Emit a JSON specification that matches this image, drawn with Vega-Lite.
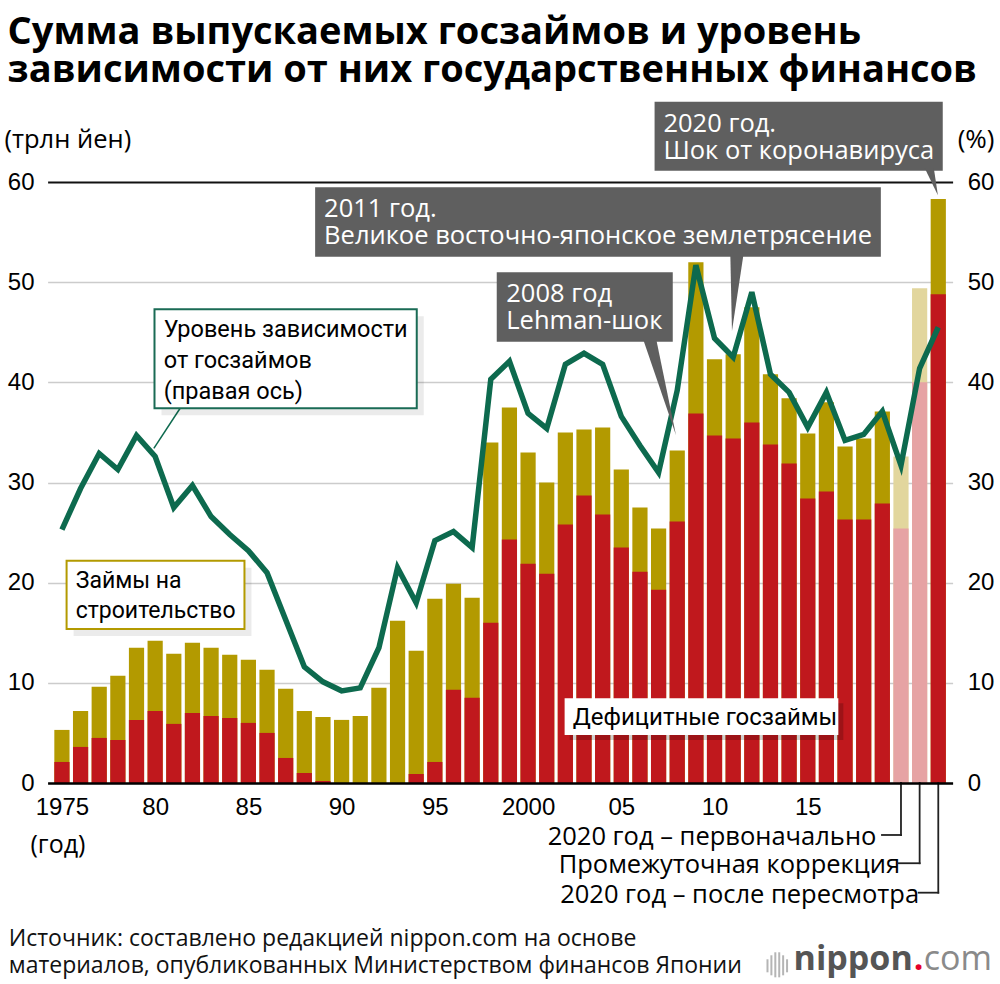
{
  "$schema": "https://vega.github.io/schema/vega-lite/v6.json",
  "width": 905,
  "height": 601,
  "autosize": {"type": "none"},
  "padding": {"left": 47.6, "top": 182, "right": 47.4, "bottom": 201},
  "background": "white",
  "config": {"view": {"stroke": null}, "font": "Open Sans"},
  "title": {
    "text": ["Сумма выпускаемых госзаймов и уровень", "зависимости от них государственных финансов"],
    "anchor": "start",
    "frame": "group",
    "font": "Open Sans",
    "fontSize": 38,
    "fontWeight": "bold",
    "color": "#000000",
    "lineHeight": 38,
    "dx": -40,
    "offset": 12
  },
  "datasets": {
    "bars": [
      {"pos": 1975, "total": 5.3, "deficit": 2.1, "ratio": 25.3, "kind": "normal"},
      {"pos": 1976, "total": 7.2, "deficit": 3.6, "ratio": 29.4, "kind": "normal"},
      {"pos": 1977, "total": 9.6, "deficit": 4.5, "ratio": 32.9, "kind": "normal"},
      {"pos": 1978, "total": 10.7, "deficit": 4.3, "ratio": 31.3, "kind": "normal"},
      {"pos": 1979, "total": 13.5, "deficit": 6.3, "ratio": 34.7, "kind": "normal"},
      {"pos": 1980, "total": 14.2, "deficit": 7.2, "ratio": 32.6, "kind": "normal"},
      {"pos": 1981, "total": 12.9, "deficit": 5.9, "ratio": 27.5, "kind": "normal"},
      {"pos": 1982, "total": 14.0, "deficit": 7.0, "ratio": 29.7, "kind": "normal"},
      {"pos": 1983, "total": 13.5, "deficit": 6.7, "ratio": 26.6, "kind": "normal"},
      {"pos": 1984, "total": 12.8, "deficit": 6.5, "ratio": 24.8, "kind": "normal"},
      {"pos": 1985, "total": 12.3, "deficit": 6.0, "ratio": 23.2, "kind": "normal"},
      {"pos": 1986, "total": 11.3, "deficit": 5.0, "ratio": 21.0, "kind": "normal"},
      {"pos": 1987, "total": 9.4, "deficit": 2.5, "ratio": 16.3, "kind": "normal"},
      {"pos": 1988, "total": 7.2, "deficit": 1.0, "ratio": 11.6, "kind": "normal"},
      {"pos": 1989, "total": 6.6, "deficit": 0.2, "ratio": 10.1, "kind": "normal"},
      {"pos": 1990, "total": 6.3, "deficit": 0.0, "ratio": 9.2, "kind": "normal"},
      {"pos": 1991, "total": 6.7, "deficit": 0.0, "ratio": 9.5, "kind": "normal"},
      {"pos": 1992, "total": 9.5, "deficit": 0.0, "ratio": 13.5, "kind": "normal"},
      {"pos": 1993, "total": 16.2, "deficit": 0.0, "ratio": 21.5, "kind": "normal"},
      {"pos": 1994, "total": 13.2, "deficit": 0.9, "ratio": 18.0, "kind": "normal"},
      {"pos": 1995, "total": 18.4, "deficit": 2.1, "ratio": 24.2, "kind": "normal"},
      {"pos": 1996, "total": 19.9, "deficit": 9.3, "ratio": 25.1, "kind": "normal"},
      {"pos": 1997, "total": 18.5, "deficit": 8.5, "ratio": 23.5, "kind": "normal"},
      {"pos": 1998, "total": 34.0, "deficit": 16.0, "ratio": 40.3, "kind": "normal"},
      {"pos": 1999, "total": 37.5, "deficit": 24.3, "ratio": 42.1, "kind": "normal"},
      {"pos": 2000, "total": 33.0, "deficit": 21.9, "ratio": 36.9, "kind": "normal"},
      {"pos": 2001, "total": 30.0, "deficit": 20.9, "ratio": 35.4, "kind": "normal"},
      {"pos": 2002, "total": 35.0, "deficit": 25.8, "ratio": 41.8, "kind": "normal"},
      {"pos": 2003, "total": 35.3, "deficit": 28.7, "ratio": 42.9, "kind": "normal"},
      {"pos": 2004, "total": 35.5, "deficit": 26.8, "ratio": 41.8, "kind": "normal"},
      {"pos": 2005, "total": 31.3, "deficit": 23.5, "ratio": 36.6, "kind": "normal"},
      {"pos": 2006, "total": 27.5, "deficit": 21.1, "ratio": 33.7, "kind": "normal"},
      {"pos": 2007, "total": 25.4, "deficit": 19.3, "ratio": 31.0, "kind": "normal"},
      {"pos": 2008, "total": 33.2, "deficit": 26.1, "ratio": 39.2, "kind": "normal"},
      {"pos": 2009, "total": 52.0, "deficit": 36.9, "ratio": 51.7, "kind": "normal"},
      {"pos": 2010, "total": 42.3, "deficit": 34.7, "ratio": 44.4, "kind": "normal"},
      {"pos": 2011, "total": 42.8, "deficit": 34.4, "ratio": 42.5, "kind": "normal"},
      {"pos": 2012, "total": 47.5, "deficit": 36.0, "ratio": 49.0, "kind": "normal"},
      {"pos": 2013, "total": 40.8, "deficit": 33.8, "ratio": 40.8, "kind": "normal"},
      {"pos": 2014, "total": 38.4, "deficit": 31.9, "ratio": 39.0, "kind": "normal"},
      {"pos": 2015, "total": 34.9, "deficit": 28.4, "ratio": 35.5, "kind": "normal"},
      {"pos": 2016, "total": 38.0, "deficit": 29.1, "ratio": 39.0, "kind": "normal"},
      {"pos": 2017, "total": 33.6, "deficit": 26.3, "ratio": 34.2, "kind": "normal"},
      {"pos": 2018, "total": 34.4, "deficit": 26.3, "ratio": 34.8, "kind": "normal"},
      {"pos": 2019, "total": 37.1, "deficit": 27.9, "ratio": 37.1, "kind": "normal"},
      {"pos": 2020, "total": 32.6, "deficit": 25.4, "ratio": 31.7, "kind": "light"},
      {"pos": 2021, "total": 49.4, "deficit": 40.0, "ratio": 41.4, "kind": "light"},
      {"pos": 2022, "total": 58.3, "deficit": 48.8, "ratio": 45.5, "kind": "normal"}
    ],
    "darkBoxes": [
      {"x": 2006.785, "x2": 2022.24, "y": 68.01, "y2": 61.13},
      {"x": 1988.58, "x2": 2018.92, "y": 59.47, "y2": 52.54},
      {"x": 1998.32, "x2": 2007.76, "y": 50.98, "y2": 44.06}
    ],
    "pointers": [
      {"id": "covid", "y": 61.4, "x": 2021.27, "x2": 2021.76},
      {"id": "covid", "y": 58.67, "x": 2021.98, "x2": 2021.98},
      {"id": "quake", "y": 52.81, "x": 2010.846, "x2": 2011.556},
      {"id": "quake", "y": 45.12, "x": 2010.935, "x2": 2010.935},
      {"id": "lehman", "y": 44.33, "x": 2006.165, "x2": 2006.87},
      {"id": "lehman", "y": 34.74, "x": 2007.93, "x2": 2007.93}
    ],
    "darkText": [
      {"x": 2007.26, "y": 65.02, "text": ["2020 год.", "Шок от коронавируса"]},
      {"x": 1989.06, "y": 56.53, "text": ["2011 год.", "Великое восточно-японское землетрясение"]},
      {"x": 1998.83, "y": 48.05, "text": ["2008 год", "Lehman-шок"]}
    ],
    "greenBox": [{"x": 1979.965, "x2": 1994.03, "y": 47.29, "y2": 37.41}],
    "greenText": [{"x": 1980.46, "y": 44.5, "text": ["Уровень зависимости", "от госзаймов", "(правая ось)"]}],
    "greenPointer": [{"x": 1981.34, "x2": 1979.93, "y": 37.41, "y2": 33.41}],
    "goldBox": [{"x": 1975.25, "x2": 1984.79, "y": 22.19, "y2": 15.37}],
    "goldText": [{"x": 1975.74, "y": 19.44, "text": ["Займы на", "строительство"]}],
    "whiteBox": [{"x": 2001.96, "x2": 2016.64, "y": 8.46, "y2": 4.79}],
    "whiteText": [{"x": 2002.4, "y": 5.79, "text": "Дефицитные госзаймы"}],
    "brackets": [
      {"x": 2020, "x2": 2020, "y": 0, "y2": -5.19},
      {"x": 2018.98, "x2": 2020, "y": -5.19, "y2": -5.19},
      {"x": 2021, "x2": 2021, "y": 0, "y2": -8.01},
      {"x": 2019.89, "x2": 2021, "y": -8.01, "y2": -8.01},
      {"x": 2022, "x2": 2022, "y": 0, "y2": -10.95},
      {"x": 2020.95, "x2": 2022, "y": -10.95, "y2": -10.95}
    ],
    "bracketText": [
      {"x": 2018.68, "y": -6.19, "text": "2020 год – первоначально"},
      {"x": 2019.95, "y": -9.01, "text": "Промежуточная коррекция"},
      {"x": 2020.97, "y": -11.95, "text": "2020 год – после пересмотра"}
    ],
    "source": [{"x": 1972.15, "y": -16.27, "text": ["Источник: составлено редакцией nippon.com на основе", "материалов, опубликованных Министерством финансов Японии"]}],
    "logoIcon": [
      {"x": 2012.84, "y": -17.6, "y2": -18.9},
      {"x": 2013.05, "y": -17.2, "y2": -19.2},
      {"x": 2013.26, "y": -16.9, "y2": -19.4},
      {"x": 2013.47, "y": -16.9, "y2": -19.4},
      {"x": 2013.68, "y": -17.2, "y2": -19.2},
      {"x": 2013.89, "y": -17.6, "y2": -18.9}
    ],
    "logoA": [{"x": 2020.63, "y": -18.67, "text": "nippon"}],
    "logoB": [{"x": 2020.95, "y": -18.67, "text": "."}],
    "logoC": [{"x": 2021.22, "y": -18.67, "text": "com"}]
  },
  "layer": [
    {
      "data": {"name": "bars"},
      "mark": {"type": "bar", "width": 15.2, "clip": false},
      "encoding": {
        "x": {
          "field": "pos", "type": "quantitative",
          "scale": {"domain": [1974.5, 2022.5], "nice": false, "zero": false},
          "axis": {
            "values": [1975, 1980, 1985, 1990, 1995, 2000, 2005, 2010, 2015],
            "labelExpr": "datum.value == 1975 || datum.value == 2000 ? toString(datum.value) : slice(toString(datum.value), 2)",
            "domain": true, "domainColor": "#000000", "domainWidth": 2.5,
            "ticks": false, "grid": false,
            "labelFont": "Liberation Sans", "labelFontSize": 24, "labelColor": "#000000",
            "labelPadding": 12, "labelFlush": false, "labelOverlap": false,
            "title": "(год)", "titleX": -17.6, "titleY": 69, "titleAlign": "left",
            "titleBaseline": "alphabetic", "titleFont": "Open Sans", "titleFontSize": 25,
            "titleFontWeight": "normal", "titleColor": "#000000", "zindex": 1
          }
        },
        "y": {
          "field": "total", "type": "quantitative",
          "scale": {"domain": [0, 60], "nice": false, "zero": false},
          "axis": {
            "orient": "left",
            "values": [0, 10, 20, 30, 40, 50, 60],
            "grid": true,
            "gridColor": {"condition": {"test": "datum.value === 60", "value": "#111111"}, "value": "#cccccc"},
            "gridWidth": {"condition": {"test": "datum.value === 60", "value": 2}, "value": 1.5},
            "domain": false, "ticks": false,
            "labelFont": "Liberation Sans", "labelFontSize": 24, "labelColor": "#000000",
            "labelPadding": 13.6,
            "title": "(трлн йен)", "titleAngle": 0, "titleAlign": "left", "titleBaseline": "alphabetic",
            "titleX": -43.6, "titleY": -35, "titleFont": "Open Sans", "titleFontSize": 25.5,
            "titleFontWeight": "normal", "titleColor": "#000000"
          }
        },
        "color": {
          "condition": {"test": "datum.kind === 'light'", "value": "#e2d69d"},
          "value": "#b39a00"
        }
      }
    },
    {
      "data": {"name": "bars"},
      "mark": {"type": "bar", "width": 15.2, "clip": false},
      "encoding": {
        "x": {"field": "pos", "type": "quantitative", "scale": {"domain": [1974.5, 2022.5], "nice": false, "zero": false}, "axis": null},
        "y": {"field": "deficit", "type": "quantitative", "scale": {"domain": [0, 60], "nice": false, "zero": false}, "axis": null},
        "color": {
          "condition": {"test": "datum.kind === 'light'", "value": "#e6a3a4"},
          "value": "#c0181d"
        }
      }
    },
    {
      "data": {"name": "bars"},
      "mark": {"type": "line", "color": "#0d6a4e", "strokeWidth": 5.5, "strokeJoin": "miter", "strokeMiterLimit": 4, "clip": false},
      "encoding": {
        "x": {"field": "pos", "type": "quantitative", "scale": {"domain": [1974.5, 2022.5], "nice": false, "zero": false}, "axis": null},
        "y": {
          "field": "ratio", "type": "quantitative",
          "scale": {"domain": [0, 60], "nice": false, "zero": false},
          "axis": {
            "orient": "right",
            "values": [0, 10, 20, 30, 40, 50, 60],
            "grid": false, "domain": false, "ticks": false,
            "labelFont": "Liberation Sans", "labelFontSize": 24, "labelColor": "#000000",
            "labelPadding": 14.6, "labelAlign": "left",
            "title": "(%)", "titleAngle": 0, "titleAlign": "left", "titleBaseline": "alphabetic",
            "titleX": 4.6, "titleY": -35, "titleFont": "Open Sans", "titleFontSize": 26,
            "titleFontWeight": "normal", "titleColor": "#000000"
          }
        }
      }
    },
    {
      "data": {"name": "darkBoxes"},
      "mark": {"type": "rect", "fill": "#5f5f5f", "clip": false},
      "encoding": {
        "x": {"field": "x", "type": "quantitative", "scale": {"domain": [1974.5, 2022.5], "nice": false, "zero": false}, "axis": null},
        "x2": {"field": "x2"},
        "y": {"field": "y", "type": "quantitative", "scale": {"domain": [0, 60], "nice": false, "zero": false}, "axis": null},
        "y2": {"field": "y2"}
      }
    },
    {
      "data": {"name": "pointers"},
      "mark": {"type": "area", "orient": "horizontal", "fill": "#5f5f5f", "clip": false},
      "encoding": {
        "y": {"field": "y", "type": "quantitative", "scale": {"domain": [0, 60], "nice": false, "zero": false}, "axis": null},
        "x": {"field": "x", "type": "quantitative", "stack": null, "scale": {"domain": [1974.5, 2022.5], "nice": false, "zero": false}, "axis": null},
        "x2": {"field": "x2"},
        "detail": {"field": "id", "type": "nominal"}
      }
    },
    {
      "data": {"name": "darkText"},
      "mark": {"type": "text", "align": "left", "baseline": "alphabetic", "font": "Open Sans", "fontSize": 25.5, "lineHeight": 27.5, "color": "#ffffff", "clip": false},
      "encoding": {
        "x": {"field": "x", "type": "quantitative", "scale": {"domain": [1974.5, 2022.5], "nice": false, "zero": false}, "axis": null},
        "y": {"field": "y", "type": "quantitative", "scale": {"domain": [0, 60], "nice": false, "zero": false}, "axis": null},
        "text": {"field": "text"}
      }
    },
    {
      "data": {"name": "greenPointer"},
      "mark": {"type": "rule", "color": "#0d6a4e", "strokeWidth": 1.5, "clip": false},
      "encoding": {
        "x": {"field": "x", "type": "quantitative", "scale": {"domain": [1974.5, 2022.5], "nice": false, "zero": false}, "axis": null},
        "x2": {"field": "x2"},
        "y": {"field": "y", "type": "quantitative", "scale": {"domain": [0, 60], "nice": false, "zero": false}, "axis": null},
        "y2": {"field": "y2"}
      }
    },
    {
      "data": {"name": "greenBox"},
      "mark": {"type": "rect", "fill": "#000000", "opacity": 0.08, "xOffset": 7, "yOffset": 7, "x2Offset": 7, "y2Offset": 7, "clip": false},
      "encoding": {
        "x": {"field": "x", "type": "quantitative", "scale": {"domain": [1974.5, 2022.5], "nice": false, "zero": false}, "axis": null},
        "x2": {"field": "x2"},
        "y": {"field": "y", "type": "quantitative", "scale": {"domain": [0, 60], "nice": false, "zero": false}, "axis": null},
        "y2": {"field": "y2"}
      }
    },
    {
      "data": {"name": "greenBox"},
      "mark": {"type": "rect", "fill": "#ffffff", "stroke": "#1a6b55", "strokeWidth": 2, "clip": false},
      "encoding": {
        "x": {"field": "x", "type": "quantitative", "scale": {"domain": [1974.5, 2022.5], "nice": false, "zero": false}, "axis": null},
        "x2": {"field": "x2"},
        "y": {"field": "y", "type": "quantitative", "scale": {"domain": [0, 60], "nice": false, "zero": false}, "axis": null},
        "y2": {"field": "y2"}
      }
    },
    {
      "data": {"name": "greenText"},
      "mark": {"type": "text", "align": "left", "baseline": "alphabetic", "font": "Roboto", "fontSize": 23.5, "lineHeight": 31, "color": "#000000", "clip": false},
      "encoding": {
        "x": {"field": "x", "type": "quantitative", "scale": {"domain": [1974.5, 2022.5], "nice": false, "zero": false}, "axis": null},
        "y": {"field": "y", "type": "quantitative", "scale": {"domain": [0, 60], "nice": false, "zero": false}, "axis": null},
        "text": {"field": "text"}
      }
    },
    {
      "data": {"name": "goldBox"},
      "mark": {"type": "rect", "fill": "#000000", "opacity": 0.08, "xOffset": 7, "yOffset": 7, "x2Offset": 7, "y2Offset": 7, "clip": false},
      "encoding": {
        "x": {"field": "x", "type": "quantitative", "scale": {"domain": [1974.5, 2022.5], "nice": false, "zero": false}, "axis": null},
        "x2": {"field": "x2"},
        "y": {"field": "y", "type": "quantitative", "scale": {"domain": [0, 60], "nice": false, "zero": false}, "axis": null},
        "y2": {"field": "y2"}
      }
    },
    {
      "data": {"name": "goldBox"},
      "mark": {"type": "rect", "fill": "#ffffff", "stroke": "#b39a00", "strokeWidth": 2, "clip": false},
      "encoding": {
        "x": {"field": "x", "type": "quantitative", "scale": {"domain": [1974.5, 2022.5], "nice": false, "zero": false}, "axis": null},
        "x2": {"field": "x2"},
        "y": {"field": "y", "type": "quantitative", "scale": {"domain": [0, 60], "nice": false, "zero": false}, "axis": null},
        "y2": {"field": "y2"}
      }
    },
    {
      "data": {"name": "goldText"},
      "mark": {"type": "text", "align": "left", "baseline": "alphabetic", "font": "Roboto", "fontSize": 23, "lineHeight": 30, "color": "#000000", "clip": false},
      "encoding": {
        "x": {"field": "x", "type": "quantitative", "scale": {"domain": [1974.5, 2022.5], "nice": false, "zero": false}, "axis": null},
        "y": {"field": "y", "type": "quantitative", "scale": {"domain": [0, 60], "nice": false, "zero": false}, "axis": null},
        "text": {"field": "text"}
      }
    },
    {
      "data": {"name": "whiteBox"},
      "mark": {"type": "rect", "fill": "#000000", "opacity": 0.18, "xOffset": 5, "yOffset": 5, "x2Offset": 5, "y2Offset": 5, "clip": false},
      "encoding": {
        "x": {"field": "x", "type": "quantitative", "scale": {"domain": [1974.5, 2022.5], "nice": false, "zero": false}, "axis": null},
        "x2": {"field": "x2"},
        "y": {"field": "y", "type": "quantitative", "scale": {"domain": [0, 60], "nice": false, "zero": false}, "axis": null},
        "y2": {"field": "y2"}
      }
    },
    {
      "data": {"name": "whiteBox"},
      "mark": {"type": "rect", "fill": "#ffffff", "clip": false},
      "encoding": {
        "x": {"field": "x", "type": "quantitative", "scale": {"domain": [1974.5, 2022.5], "nice": false, "zero": false}, "axis": null},
        "x2": {"field": "x2"},
        "y": {"field": "y", "type": "quantitative", "scale": {"domain": [0, 60], "nice": false, "zero": false}, "axis": null},
        "y2": {"field": "y2"}
      }
    },
    {
      "data": {"name": "whiteText"},
      "mark": {"type": "text", "align": "left", "baseline": "alphabetic", "font": "Roboto", "fontSize": 24, "color": "#000000", "clip": false},
      "encoding": {
        "x": {"field": "x", "type": "quantitative", "scale": {"domain": [1974.5, 2022.5], "nice": false, "zero": false}, "axis": null},
        "y": {"field": "y", "type": "quantitative", "scale": {"domain": [0, 60], "nice": false, "zero": false}, "axis": null},
        "text": {"field": "text"}
      }
    },
    {
      "data": {"name": "brackets"},
      "mark": {"type": "rule", "color": "#222222", "strokeWidth": 1.8, "strokeCap": "square", "clip": false},
      "encoding": {
        "x": {"field": "x", "type": "quantitative", "scale": {"domain": [1974.5, 2022.5], "nice": false, "zero": false}, "axis": null},
        "x2": {"field": "x2"},
        "y": {"field": "y", "type": "quantitative", "scale": {"domain": [0, 60], "nice": false, "zero": false}, "axis": null},
        "y2": {"field": "y2"}
      }
    },
    {
      "data": {"name": "bracketText"},
      "mark": {"type": "text", "align": "right", "baseline": "alphabetic", "font": "Open Sans", "fontSize": 25.5, "color": "#000000", "clip": false},
      "encoding": {
        "x": {"field": "x", "type": "quantitative", "scale": {"domain": [1974.5, 2022.5], "nice": false, "zero": false}, "axis": null},
        "y": {"field": "y", "type": "quantitative", "scale": {"domain": [0, 60], "nice": false, "zero": false}, "axis": null},
        "text": {"field": "text"}
      }
    },
    {
      "data": {"name": "source"},
      "mark": {"type": "text", "align": "left", "baseline": "alphabetic", "font": "Open Sans", "fontSize": 23, "lineHeight": 27, "color": "#111111", "clip": false},
      "encoding": {
        "x": {"field": "x", "type": "quantitative", "scale": {"domain": [1974.5, 2022.5], "nice": false, "zero": false}, "axis": null},
        "y": {"field": "y", "type": "quantitative", "scale": {"domain": [0, 60], "nice": false, "zero": false}, "axis": null},
        "text": {"field": "text"}
      }
    },
    {
      "data": {"name": "logoIcon"},
      "mark": {"type": "rule", "color": "#b5b5b5", "strokeWidth": 2, "clip": false},
      "encoding": {
        "x": {"field": "x", "type": "quantitative", "scale": {"domain": [1974.5, 2022.5], "nice": false, "zero": false}, "axis": null},
        "y": {"field": "y", "type": "quantitative", "scale": {"domain": [0, 60], "nice": false, "zero": false}, "axis": null},
        "y2": {"field": "y2"}
      }
    },
    {
      "data": {"name": "logoA"},
      "mark": {"type": "text", "align": "right", "baseline": "alphabetic", "font": "Open Sans", "fontSize": 34, "fontWeight": "bold", "color": "#555555", "clip": false},
      "encoding": {
        "x": {"field": "x", "type": "quantitative", "scale": {"domain": [1974.5, 2022.5], "nice": false, "zero": false}, "axis": null},
        "y": {"field": "y", "type": "quantitative", "scale": {"domain": [0, 60], "nice": false, "zero": false}, "axis": null},
        "text": {"field": "text"}
      }
    },
    {
      "data": {"name": "logoB"},
      "mark": {"type": "text", "align": "center", "baseline": "alphabetic", "font": "Open Sans", "fontSize": 34, "fontWeight": "bold", "color": "#e5002a", "clip": false},
      "encoding": {
        "x": {"field": "x", "type": "quantitative", "scale": {"domain": [1974.5, 2022.5], "nice": false, "zero": false}, "axis": null},
        "y": {"field": "y", "type": "quantitative", "scale": {"domain": [0, 60], "nice": false, "zero": false}, "axis": null},
        "text": {"field": "text"}
      }
    },
    {
      "data": {"name": "logoC"},
      "mark": {"type": "text", "align": "left", "baseline": "alphabetic", "font": "Open Sans", "fontSize": 34, "color": "#8a8a8a", "clip": false},
      "encoding": {
        "x": {"field": "x", "type": "quantitative", "scale": {"domain": [1974.5, 2022.5], "nice": false, "zero": false}, "axis": null},
        "y": {"field": "y", "type": "quantitative", "scale": {"domain": [0, 60], "nice": false, "zero": false}, "axis": null},
        "text": {"field": "text"}
      }
    }
  ],
  "resolve": {"axis": {"x": "independent", "y": "independent"}}
}
